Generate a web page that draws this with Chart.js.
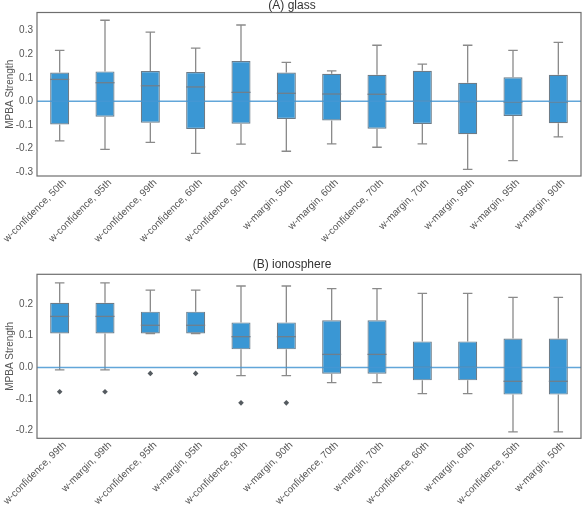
<!DOCTYPE html>
<html>
<head>
<meta charset="utf-8">
<script src="https://cdn.jsdelivr.net/npm/chart.js@4.4.1/dist/chart.umd.min.js"></script>
<style>
  body { margin: 0; background: #fff; }
  .panel { position: absolute; left: 0; width: 585px; }
  #wrapA { top: 0; height: 250px; }
  #wrapB { top: 250px; height: 261px; }
</style>
</head>
<body>
<div class="panel" id="wrapA"><canvas id="chartA"></canvas></div>
<div class="panel" id="wrapB"><canvas id="chartB"></canvas></div>
<script>
// ---- (A) glass ----
const catsA = ['w-confidence, 50th', 'w-confidence, 95th', 'w-confidence, 99th', 'w-confidence, 60th',
  'w-confidence, 90th', 'w-margin, 50th', 'w-margin, 60th', 'w-confidence, 70th',
  'w-margin, 70th', 'w-margin, 99th', 'w-margin, 95th', 'w-margin, 90th'];
const lowA  = [-0.168, -0.204, -0.174, -0.221, -0.182, -0.212, -0.181, -0.195, -0.181, -0.289, -0.252, -0.151];
const q1A   = [-0.098, -0.065, -0.091, -0.117, -0.095, -0.075, -0.081, -0.116, -0.096, -0.140, -0.062, -0.093];
const medA  = [0.093, 0.079, 0.066, 0.061, 0.038, 0.034, 0.031, 0.030, 0.000, -0.001, -0.003, -0.003];
const q3A   = [0.122, 0.127, 0.129, 0.124, 0.171, 0.122, 0.117, 0.113, 0.130, 0.079, 0.102, 0.113];
const highA = [0.216, 0.344, 0.294, 0.226, 0.324, 0.165, 0.129, 0.238, 0.158, 0.238, 0.216, 0.250];
const outA  = [null, null, null, null, null, null, null, null, null, null, null, null];
const ticksA = [-0.3, -0.2, -0.1, 0.0, 0.1, 0.2, 0.3];

// ---- (B) ionosphere ----
const catsB = ['w-confidence, 99th', 'w-margin, 99th', 'w-confidence, 95th', 'w-margin, 95th',
  'w-confidence, 90th', 'w-margin, 90th', 'w-confidence, 70th', 'w-margin, 70th',
  'w-confidence, 60th', 'w-margin, 60th', 'w-confidence, 50th', 'w-margin, 50th'];
const lowB  = [-0.008, -0.008, 0.107, 0.107, -0.026, -0.026, -0.048, -0.048, -0.083, -0.083, -0.204, -0.204];
const q1B   = [0.107, 0.107, 0.107, 0.107, 0.057, 0.057, -0.020, -0.020, -0.041, -0.041, -0.086, -0.086];
const medB  = [0.161, 0.161, 0.133, 0.133, 0.097, 0.097, 0.041, 0.041, 0.000, 0.000, -0.044, -0.044];
const q3B   = [0.204, 0.204, 0.176, 0.176, 0.142, 0.142, 0.149, 0.149, 0.082, 0.082, 0.091, 0.091];
const highB = [0.267, 0.267, 0.244, 0.244, 0.257, 0.257, 0.249, 0.249, 0.234, 0.234, 0.221, 0.221];
const outB  = [-0.077, -0.077, -0.019, -0.019, -0.112, -0.112, null, null, null, null, null, null];
const ticksB = [-0.2, -0.1, 0.0, 0.1, 0.2];

const FONT = "'Liberation Sans', Arial, sans-serif";
const boxColor = '#3a97d4';
const lineGray = '#8a8a8a';
const textGray = '#555555';

// whiskers, caps, medians, zero line and frame
const boxPlugin = {
  id: 'boxExtras',
  afterDatasetsDraw(chart) {
    const { ctx, chartArea: a, scales: { y } } = chart;
    const st = chart.options.plugins.boxExtras;
    const bars = chart.getDatasetMeta(0).data;
    ctx.save();
    ctx.lineWidth = 1.3;
    bars.forEach((bar, i) => {
      const cx = bar.x, hw = bar.width / 2, cap = bar.width / 4;
      const yl = y.getPixelForValue(st.low[i]), y1 = y.getPixelForValue(st.q1[i]);
      const yh = y.getPixelForValue(st.high[i]), y3 = y.getPixelForValue(st.q3[i]);
      const ym = y.getPixelForValue(st.med[i]);
      ctx.strokeStyle = lineGray;
      ctx.beginPath();
      ctx.moveTo(cx, y1); ctx.lineTo(cx, yl);
      ctx.moveTo(cx - cap, yl); ctx.lineTo(cx + cap, yl);
      ctx.moveTo(cx, y3); ctx.lineTo(cx, yh);
      ctx.moveTo(cx - cap, yh); ctx.lineTo(cx + cap, yh);
      ctx.stroke();
      ctx.strokeStyle = '#6f7f8c';
      ctx.beginPath();
      ctx.moveTo(cx - hw, ym); ctx.lineTo(cx + hw, ym);
      ctx.stroke();
    });
    // zero line
    const y0 = y.getPixelForValue(0);
    ctx.strokeStyle = 'rgba(70,150,210,0.85)';
    ctx.lineWidth = 1.5;
    ctx.beginPath();
    ctx.moveTo(a.left, y0); ctx.lineTo(a.right, y0);
    ctx.stroke();
    // frame
    ctx.strokeStyle = '#6e6e6e';
    ctx.lineWidth = 1.2;
    ctx.strokeRect(a.left, a.top, a.right - a.left, a.bottom - a.top);
    ctx.restore();
  }
};

function makeChart(id, title, cats, low, q1, med, q3, high, out, ticks, yMin, yMax, pad, titleGap, xHeight) {
  return new Chart(document.getElementById(id), {
    type: 'bar',
    data: {
      labels: cats,
      datasets: [
        {
          data: q1.map((v, i) => [v, q3[i]]),
          backgroundColor: boxColor,
          borderColor: '#6d7c88',
          borderWidth: 1.2,
          borderSkipped: false,
          categoryPercentage: 1,
          barPercentage: 0.42,
        },
        {
          type: 'line',
          data: out,
          showLine: false,
          pointStyle: 'rectRot',
          pointRadius: 2.8,
          backgroundColor: '#555b60',
          borderColor: '#555b60',
          borderWidth: 0,
        },
      ],
    },
    options: {
      responsive: true,
      maintainAspectRatio: false,
      animation: false,
      layout: { padding: { top: pad, right: 1, left: 0, bottom: 0 } },
      plugins: {
        legend: { display: false },
        tooltip: { enabled: false },
        title: {
          display: true,
          text: title,
          color: '#333333',
          font: { family: FONT, size: 12, weight: 'normal', lineHeight: 1.0 },
          padding: { top: 0, bottom: titleGap },
        },
        boxExtras: { low, q1, med, q3, high },
      },
      scales: {
        x: {
          grid: { display: false, drawTicks: false },
          border: { display: false },
          ticks: {
            minRotation: 45, maxRotation: 45,
            color: textGray, padding: 1, labelOffset: 5,
            font: { family: FONT, size: 10 },
          },
          afterFit: (s) => { s.height = xHeight; s.paddingLeft = 0; s.paddingRight = 0; },
        },
        y: {
          min: yMin, max: yMax,
          grid: { display: false, drawTicks: false },
          border: { display: false },
          title: {
            display: true, text: 'MPBA Strength', color: textGray,
            font: { family: FONT, size: 10 }, padding: { top: 4, bottom: 0 },
          },
          ticks: {
            color: textGray, padding: 4,
            font: { family: FONT, size: 10 },
            callback: (v) => v.toFixed(1),
          },
          afterBuildTicks: (s) => { s.ticks = ticks.map((v) => ({ value: v })); },
          afterFit: (s) => { s.width = 37; },
        },
      },
    },
    plugins: [boxPlugin],
  });
}

makeChart('chartA', '(A) glass', catsA, lowA, q1A, medA, q3A, highA, outA, ticksA, -0.317, 0.377, 0, 0.5, 74);
makeChart('chartB', '(B) ionosphere', catsB, lowB, q1B, medB, q3B, highB, outB, ticksB, -0.224, 0.294, 9, 3.3, 72.7);
</script>
</body>
</html>
